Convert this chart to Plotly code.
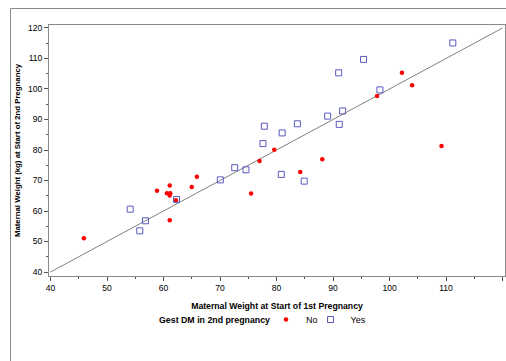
import plotly.graph_objects as go

# Gest DM in 2nd pregnancy = No
no_x = [45.9, 58.85, 60.6, 61.1, 61.2, 61.1, 61.1, 62.2, 65.0, 65.9, 75.5, 77.0, 79.6, 84.2, 88.1, 97.8, 102.2, 104.0, 109.2]
no_y = [51.1, 66.65, 65.8, 68.4, 65.8, 65.1, 57.0, 63.5, 67.9, 71.2, 65.7, 76.4, 80.1, 72.8, 77.0, 97.7, 105.3, 101.2, 81.3]

# Gest DM in 2nd pregnancy = Yes
yes_x = [54.1, 55.8, 56.8, 62.3, 70.05, 72.6, 74.6, 77.6, 77.85, 80.85, 81.0, 83.7, 84.9, 89.05, 91.1, 91.7, 91.0, 95.4, 98.3, 111.2]
yes_y = [60.6, 53.5, 56.8, 63.8, 70.2, 74.2, 73.5, 82.1, 87.8, 72.0, 85.6, 88.6, 69.8, 91.1, 88.4, 92.8, 105.3, 109.7, 99.7, 115.1]

# identity reference line
line_x = [40, 120]
line_y = [40, 120]

tick_vals = [40, 50, 60, 70, 80, 90, 100, 110, 120]
tick_text = [str(v) for v in tick_vals]

FONT = "Liberation Sans, Arial, sans-serif"
FRAME = "#8a8a8a"

W, H = 506, 361
ML, MR, MT, MB = 49, 1, 25, 85
PW, PH = W - ML - MR, H - MT - MB


def px_x(px):
    return (px - ML) / PW


def px_y(py):
    return (H - MB - py) / PH


fig = go.Figure()
fig.add_trace(go.Scatter(x=line_x, y=line_y, mode="lines",
                         line=dict(color="#808080", width=1),
                         showlegend=False, hoverinfo="skip"))
fig.add_trace(go.Scatter(x=no_x, y=no_y, mode="markers", name="No", legend="legend",
                         marker=dict(symbol="circle", size=4.5, color="#FF0000",
                                     line=dict(width=0))))
fig.add_trace(go.Scatter(x=yes_x, y=yes_y, mode="markers", name="Yes", legend="legend2",
                         marker=dict(symbol="square-open", size=6, color="#5A5AC0",
                                     line=dict(width=1, color="#5A5AC0"))))

axis_common = dict(
    tickmode="array", tickvals=tick_vals, ticktext=tick_text,
    ticks="outside", ticklen=4, tickcolor="#555555", tickwidth=1,
    minor=dict(ticks="outside", ticklen=2, tickcolor="#555555", dtick=5, tick0=0),
    showline=True, linecolor=FRAME, linewidth=1, mirror=True,
    showgrid=False, zeroline=False,
    tickfont=dict(family=FONT, size=8.5, color="#000000"),
)

legend_common = dict(orientation="h", xanchor="left", yanchor="middle",
                     font=dict(family=FONT, size=9, color="#000000"),
                     itemwidth=30, borderwidth=0, bgcolor="rgba(0,0,0,0)")

fig.update_layout(
    width=W, height=H,
    margin=dict(l=ML, r=MR, t=MT, b=MB),
    paper_bgcolor="white", plot_bgcolor="white",
    font=dict(family=FONT, color="#000000"),
    xaxis=dict(range=[39.73, 120.44],
               title=dict(text="<b>Maternal Weight at Start of 1st Pregnancy</b>",
                          font=dict(family=FONT, size=8.7, color="#000000"), standoff=10),
               **axis_common),
    yaxis=dict(range=[38.69, 120.98],
               title=dict(text="<b>Maternal Weight (kg) at Start of 2nd Pregnancy</b>",
                          font=dict(family=FONT, size=7.8, color="#000000"), standoff=6),
               **axis_common),
    showlegend=True,
    legend=dict(x=px_x(266), y=px_y(319.5), **legend_common),
    legend2=dict(x=px_x(310.5), y=px_y(319.5), **legend_common),
    annotations=[
        dict(text="<b>Gest DM in 2nd pregnancy</b>", xref="paper", yref="paper",
             x=px_x(272), y=px_y(319.5), xanchor="right", yanchor="middle",
             showarrow=False, font=dict(family=FONT, size=8.8, color="#000000")),
    ],
    shapes=[
        dict(type="line", xref="paper", yref="paper", x0=px_x(10.5), x1=1.2,
             y0=px_y(8.5), y1=px_y(8.5), line=dict(color=FRAME, width=1)),
        dict(type="line", xref="paper", yref="paper", x0=px_x(10.5), x1=px_x(10.5),
             y0=px_y(8.5), y1=-0.5, line=dict(color=FRAME, width=1)),
    ],
)

fig.write_html("out.html", config={"displayModeBar": False},
               post_script="document.body.style.margin='0';")
